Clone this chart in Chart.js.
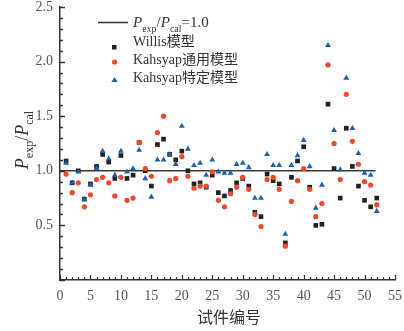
<!DOCTYPE html>
<html>
<head>
<meta charset="utf-8">
<script src="https://cdn.jsdelivr.net/npm/chart.js@4/dist/chart.umd.min.js"></script>
<style>
  html, body { margin: 0; padding: 0; background: #fff; }
  canvas { display: block; }
</style>
</head>
<body>
<canvas id="chart" width="404" height="331"></canvas>
<script>
// 试件编号 1..52
const specimens = Array.from({ length: 52 }, (_, i) => i + 1);

// Willis模型
const willis = [1.09, 0.89, 1.00, 0.74, 0.88, 1.04, 1.15, 1.08, 0.93, 1.14,
  0.93, 0.96, 1.26, 1.00, 0.86, 1.24, 1.29, 1.15, 1.10, 1.18,
  1.00, 0.88, 0.89, 0.85, 0.96, 0.80, 0.77, 0.82, 0.89, 0.93,
  0.86, 0.62, 0.58, 0.97, 0.91, 0.88, 0.34, 0.94, 1.09, 1.22,
  0.85, 0.50, 0.51, 1.61, 1.02, 0.75, 1.39, 1.04, 0.86, 0.73,
  0.67, 0.75];

// Kahsyap通用模型
const kGeneral = [0.97, 0.80, 0.89, 0.67, 0.78, 0.92, 0.94, 0.89, 0.77, 0.94,
  0.73, 0.75, 1.26, 1.02, 0.95, 1.35, 1.50, 0.91, 0.93, 1.13,
  0.95, 0.84, 0.86, 0.86, 0.99, 0.73, 0.67, 0.79, 0.85, 0.94,
  0.83, 0.60, 0.49, 0.92, 0.94, 0.83, 0.31, 0.72, 0.91, 1.02,
  0.83, 0.58, 0.70, 1.97, 1.25, 0.92, 1.70, 1.27, 1.06, 0.90,
  0.87, 0.69];

// Kahsyap特定模型
const kSpecific = [1.07, 0.89, 0.99, 0.74, 0.87, 1.02, 1.18, 1.11, 0.96, 1.18,
  0.99, 1.02, 1.19, 0.93, 0.76, 1.10, 1.10, 1.15, 1.06, 1.41,
  1.20, 1.05, 1.07, 0.96, 1.10, 0.99, 0.98, 0.98, 1.06, 1.07,
  1.03, 0.75, 0.75, 1.15, 1.05, 1.05, 0.42, 1.05, 1.14, 1.28,
  1.04, 0.66, 0.87, 2.15, 1.37, 1.01, 1.85, 1.39, 1.16, 0.98,
  0.96, 0.63];

const refLineX = [0, 51.8];
const refLineY = [1.0, 1.0];

const xTicks = [0, 5, 10, 15, 20, 25, 30, 35, 40, 45, 50, 55];
const yTicks = [0, 0.5, 1.0, 1.5, 2.0, 2.5];

const serif = '"Liberation Serif", "Times New Roman", "Noto Sans CJK SC", serif';
const axisColor = '#333';
const blackC = '#222222', redC = '#f0482a', blueC = '#1c5fb4';

const toPts = arr => arr.map((v, i) => ({ x: specimens[i], y: v }));

// inward ticks, legend with subscripts, axis titles
const decor = {
  id: 'decor',
  afterDraw(chart) {
    const ctx = chart.ctx;
    const xs = chart.scales.x, ys = chart.scales.y;
    const area = chart.chartArea;
    ctx.save();
    ctx.strokeStyle = axisColor;
    ctx.lineWidth = 1.3;
    ctx.beginPath();
    for (let v = 0; v <= 55; v++) {
      const px = Math.round(xs.getPixelForValue(v)) + 0.5;
      const len = v % 5 === 0 ? 5 : 3;
      ctx.moveTo(px, area.bottom);
      ctx.lineTo(px, area.bottom - len);
    }
    for (let k = 0; k <= 25; k++) {
      const py = Math.round(ys.getPixelForValue(k / 10)) + 0.5;
      const len = k % 5 === 0 ? 5 : 3;
      ctx.moveTo(area.left, py);
      ctx.lineTo(area.left + len, py);
    }
    ctx.stroke();

    // P with subscript; returns new x
    function pSub(x, y, size, sub, draw) {
      ctx.font = 'italic ' + size + 'px ' + serif;
      if (draw) ctx.fillText('P', x, y);
      x += ctx.measureText('P').width;
      ctx.font = Math.round(size * 0.68) + 'px ' + serif;
      if (draw) ctx.fillText(sub, x, y + size * 0.3);
      return x + ctx.measureText(sub).width;
    }
    function ratio(x, y, size, tail, draw) {
      x = pSub(x, y, size, 'exp', draw);
      ctx.font = size + 'px ' + serif;
      if (draw) ctx.fillText('/', x, y);
      x += ctx.measureText('/').width;
      x = pSub(x, y, size, 'cal', draw);
      if (tail) {
        ctx.font = size + 'px ' + serif;
        if (draw) ctx.fillText(tail, x, y);
        x += ctx.measureText(tail).width;
      }
      return x;
    }

    // legend
    ctx.fillStyle = '#333';
    ctx.textBaseline = 'alphabetic';
    ctx.strokeStyle = '#333';
    ctx.lineWidth = 1.5;
    ctx.beginPath();
    ctx.moveTo(98, 22.5);
    ctx.lineTo(128, 22.5);
    ctx.stroke();
    ratio(133, 27, 15, '=1.0', true);

    const labels = ['Willis模型', 'Kahsyap通用模型', 'Kahsyap特定模型'];
    const rowsY = [45, 63, 81];
    ctx.font = '14px ' + serif;
    ctx.textBaseline = 'middle';
    labels.forEach((t, i) => {
      ctx.fillStyle = '#333';
      ctx.fillText(t, 133, rowsY[i] - 3);
    });
    ctx.fillStyle = blackC;
    ctx.fillRect(112, 45, 4.5, 4.5);
    ctx.fillStyle = redC;
    ctx.beginPath();
    ctx.arc(114.5, 62, 2.6, 0, Math.PI * 2);
    ctx.fill();
    ctx.fillStyle = blueC;
    ctx.beginPath();
    ctx.moveTo(114.5, 77);
    ctx.lineTo(111.3, 82);
    ctx.lineTo(117.7, 82);
    ctx.closePath();
    ctx.fill();

    // x axis title
    ctx.fillStyle = '#333';
    ctx.textAlign = 'center';
    ctx.textBaseline = 'middle';
    ctx.font = '16px "Noto Sans CJK SC", sans-serif';
    ctx.fillText('试件编号', 229, 317);

    // y axis title (rotated)
    ctx.textAlign = 'left';
    ctx.textBaseline = 'alphabetic';
    const w = ratio(0, 0, 18, '', false);
    ctx.translate(22, 140);
    ctx.rotate(-Math.PI / 2);
    ratio(-w / 2, 6, 18, '', true);
    ctx.restore();
  }
};

new Chart(document.getElementById('chart').getContext('2d'), {
  type: 'scatter',
  data: {
    datasets: [
      {
        label: 'ref',
        data: refLineX.map((v, i) => ({ x: v, y: refLineY[i] })),
        showLine: true,
        borderColor: '#3a3a3a',
        borderWidth: 1.6,
        pointRadius: 0,
        order: 3
      },
      {
        label: 'Willis模型',
        data: toPts(willis),
        pointStyle: 'rect',
        pointRadius: 3.3,
        backgroundColor: blackC,
        borderColor: blackC,
        borderWidth: 0,
        order: 2
      },
      {
        label: 'Kahsyap通用模型',
        data: toPts(kGeneral),
        pointStyle: 'circle',
        pointRadius: 2.6,
        backgroundColor: redC,
        borderColor: redC,
        borderWidth: 0,
        order: 1
      },
      {
        label: 'Kahsyap特定模型',
        data: toPts(kSpecific),
        pointStyle: 'triangle',
        pointRadius: 3.4,
        backgroundColor: blueC,
        borderColor: blueC,
        borderWidth: 0,
        order: 0
      }
    ]
  },
  options: {
    responsive: false,
    animation: false,
    devicePixelRatio: 1,
    layout: { padding: { top: 7, right: 9, left: 0, bottom: 0 } },
    plugins: {
      legend: { display: false },
      tooltip: { enabled: false }
    },
    scales: {
      x: {
        type: 'linear',
        min: 0,
        max: 55,
        afterBuildTicks: s => { s.ticks = xTicks.map(v => ({ value: v })); },
        grid: { display: false, drawTicks: false },
        border: { display: true, color: axisColor, width: 1.5 },
        ticks: {
          color: '#555',
          font: { family: serif, size: 14 },
          padding: 8,
          maxRotation: 0,
          autoSkip: false
        },
        afterFit: s => { s.height = 51; s.paddingLeft = 0; s.paddingRight = 0; }
      },
      y: {
        type: 'linear',
        min: 0,
        max: 2.5,
        afterBuildTicks: s => { s.ticks = yTicks.map(v => ({ value: v })); },
        grid: { display: false, drawTicks: false },
        border: { display: true, color: axisColor, width: 1.5 },
        ticks: {
          color: '#555',
          font: { family: serif, size: 14 },
          padding: 7,
          autoSkip: false,
          callback: v => (v === 0 ? '' : v.toFixed(1))
        },
        afterFit: s => { s.width = 60; s.paddingTop = 0; s.paddingBottom = 0; }
      }
    }
  },
  plugins: [decor]
});
</script>
</body>
</html>
